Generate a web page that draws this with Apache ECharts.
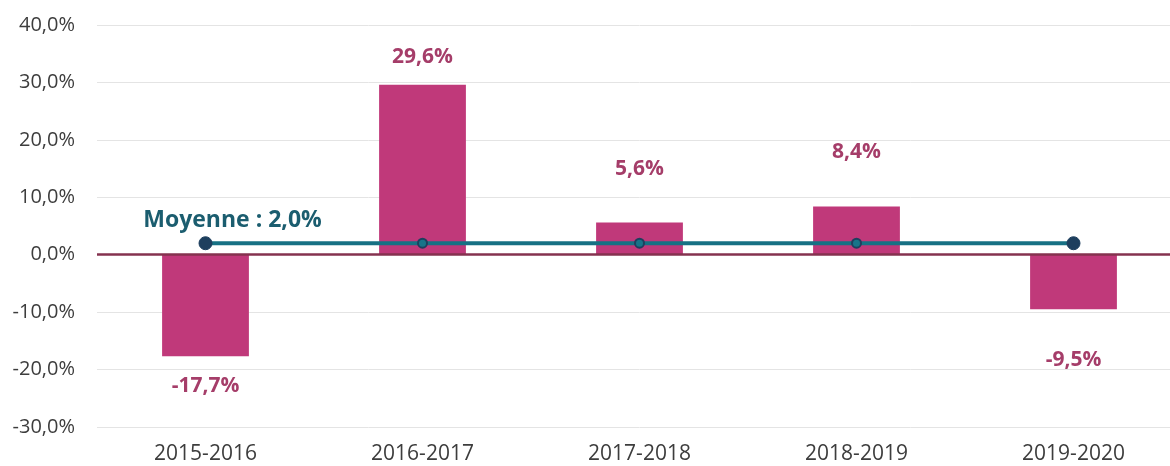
<!DOCTYPE html>
<html>
<head>
<meta charset="UTF-8">
<title>Variation annuelle</title>
<script src="https://cdn.jsdelivr.net/npm/echarts@6/dist/echarts.min.js"></script>
<style>
  html, body { margin: 0; padding: 0; background: #fff; overflow: hidden; }
  /* le graphique d'origine est coupe a droite */
  #chart { width: 1185px; height: 466px; }
</style>
</head>
<body>
<div id="chart"></div>
<script>
// donnees
var saisons = ['2015-2016', '2016-2017', '2017-2018', '2018-2019', '2019-2020'];
var variations = [-17.7, 29.6, 5.6, 8.4, -9.5];
var moyenne = [2.0, 2.0, 2.0, 2.0, 2.0];
var moyenneTexte = 'Moyenne : 2,0%';

function pct(v) {
  return v.toFixed(1).replace('.', ',') + '%';
}

// ecart des etiquettes (deplacees a la main dans l'original)
var ecarts = [19, 17, 43, 44, 40];

var barData = variations.map(function (v, i) {
  return {
    value: v,
    label: { position: v < 0 ? 'bottom' : 'top', distance: ecarts[i] }
  };
});

var lineData = moyenne.map(function (v, i) {
  var end = (i === 0 || i === moyenne.length - 1);
  var item = {
    value: v,
    symbolSize: end ? 13 : 9,
    itemStyle: end ? { color: '#1e3f5e', borderColor: '#1e3f5e' } : { color: '#177489', borderColor: '#1e3f5e', borderWidth: 2 }
  };
  if (i === 0) {
    item.label = {
      show: true,
      formatter: moyenneTexte,
      offset: [27, 1],
      position: 'top',
      color: '#1b5d6f',
      fontWeight: 'bold',
      fontSize: 23,
      fontFamily: 'Open Sans'
    };
  }
  return item;
});

var chart = echarts.init(document.getElementById('chart'));
chart.setOption({
  animation: false,
  grid: { left: 97, top: 25, right: 3, bottom: 39, containLabel: false, outerBoundsMode: 'none' },
  xAxis: {
    type: 'category',
    data: saisons,
    axisLine: { show: false },
    axisTick: { show: false },
    axisLabel: { color: '#3d3d3d', fontSize: 21, fontFamily: 'Open Sans', margin: 17 }
  },
  yAxis: {
    type: 'value',
    min: -30,
    max: 40,
    interval: 10,
    axisLabel: {
      color: '#3d3d3d', fontSize: 20, fontFamily: 'Open Sans', margin: 22,
      formatter: function (v) { return pct(v); }
    },
    splitLine: { lineStyle: { color: '#e4e4e4', width: 1 } }
  },
  series: [
    {
      type: 'bar',
      data: barData,
      barWidth: '40%',
      itemStyle: { color: '#c0397a' },
      label: {
        show: true,
        color: '#a53d69',
        fontWeight: 'bold',
        fontSize: 21,
        fontFamily: 'Open Sans',
        formatter: function (p) { return pct(p.value); }
      },
      markLine: {
        silent: true,
        symbol: 'none',
        label: { show: false },
        lineStyle: { color: '#85324f', width: 2.5, type: 'solid' },
        data: [{ yAxis: 0 }]
      },
      z: 2
    },
    {
      type: 'line',
      data: lineData,
      symbol: 'circle',
      lineStyle: { color: '#177184', width: 4 },
      z: 5
    }
  ]
});
</script>
</body>
</html>
